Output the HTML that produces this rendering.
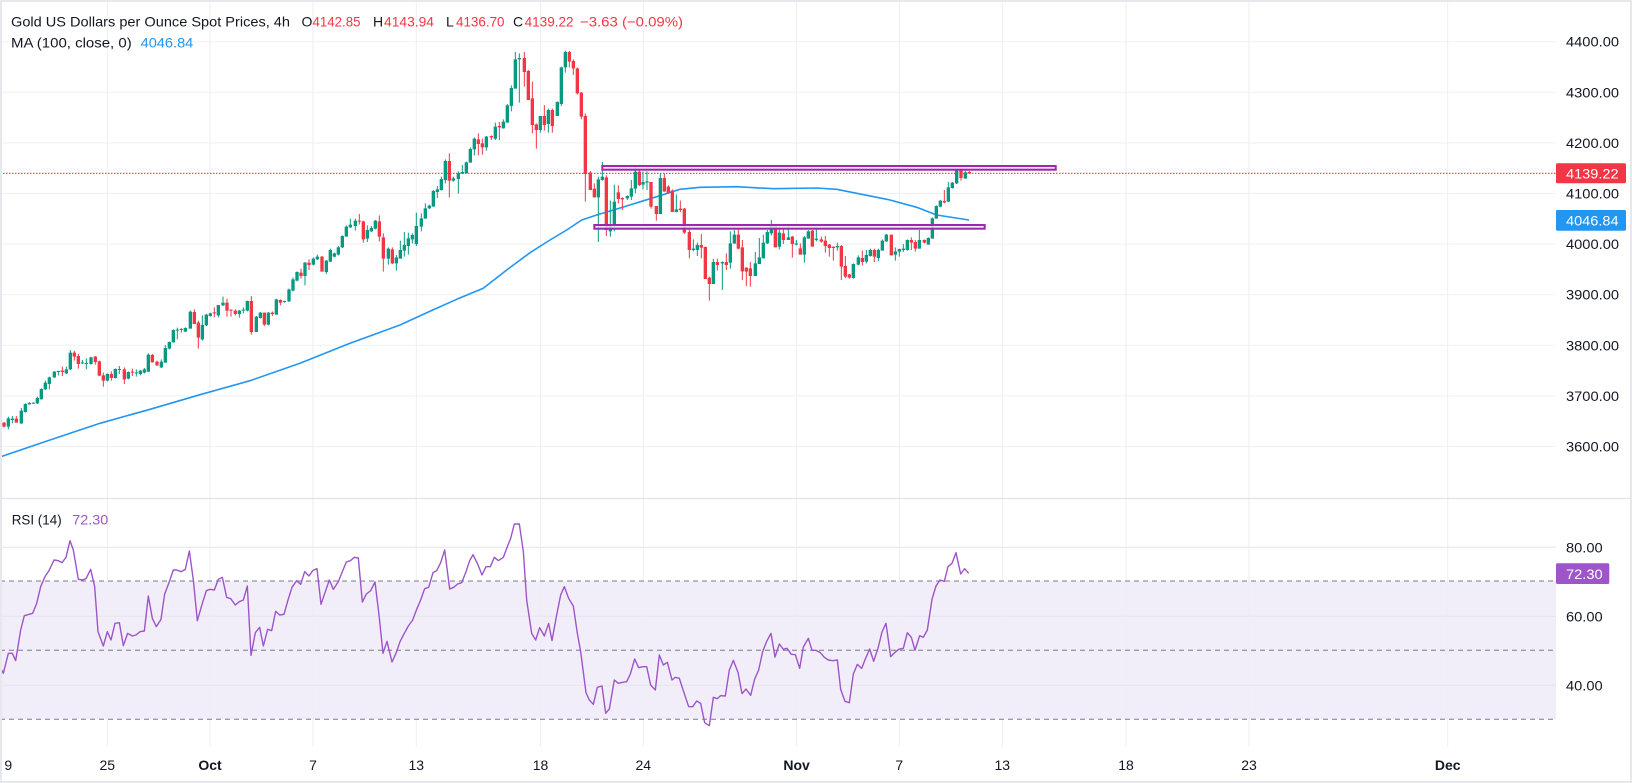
<!DOCTYPE html>
<html><head><meta charset="utf-8"><style>
html,body{margin:0;padding:0;background:#fff;}
svg{display:block;font-family:"Liberation Sans",Arial,sans-serif;}
</style></head><body>
<svg width="1632" height="783" viewBox="0 0 1632 783" xmlns="http://www.w3.org/2000/svg">
<rect x="0" y="0" width="1632" height="783" fill="#fff"/>
<!-- RSI band fill -->
<rect x="0" y="581" width="1556" height="138.3" fill="#f2eef9"/>
<!-- horizontal grid price -->
<g stroke="#eef0f3" stroke-width="1">
<line x1="0" y1="41.7" x2="1556" y2="41.7"/>
<line x1="0" y1="92.3" x2="1556" y2="92.3"/>
<line x1="0" y1="142.9" x2="1556" y2="142.9"/>
<line x1="0" y1="193.5" x2="1556" y2="193.5"/>
<line x1="0" y1="244.1" x2="1556" y2="244.1"/>
<line x1="0" y1="294.7" x2="1556" y2="294.7"/>
<line x1="0" y1="345.3" x2="1556" y2="345.3"/>
<line x1="0" y1="395.9" x2="1556" y2="395.9"/>
<line x1="0" y1="446.5" x2="1556" y2="446.5"/>
</g>
<g stroke="#e6e4ee" stroke-width="1">
<line x1="0" y1="547.3" x2="1556" y2="547.3"/>
<line x1="0" y1="616.3" x2="1556" y2="616.3"/>
<line x1="0" y1="685.3" x2="1556" y2="685.3"/>
</g>
<!-- vertical grid -->
<g stroke="#eceef2" stroke-width="1">
<line x1="107.3" y1="2" x2="107.3" y2="747"/>
<line x1="210" y1="2" x2="210" y2="747"/>
<line x1="313" y1="2" x2="313" y2="747"/>
<line x1="416.3" y1="2" x2="416.3" y2="747"/>
<line x1="540.5" y1="2" x2="540.5" y2="747"/>
<line x1="643.3" y1="2" x2="643.3" y2="747"/>
<line x1="796.6" y1="2" x2="796.6" y2="747"/>
<line x1="899.3" y1="2" x2="899.3" y2="747"/>
<line x1="1002.3" y1="2" x2="1002.3" y2="747"/>
<line x1="1126" y1="2" x2="1126" y2="747"/>
<line x1="1249" y1="2" x2="1249" y2="747"/>
<line x1="1447.7" y1="2" x2="1447.7" y2="747"/>
</g>
<!-- pane separator -->
<line x1="0" y1="498.5" x2="1632" y2="498.5" stroke="#e0e3eb" stroke-width="1.3"/>
<!-- RSI dashed levels -->
<g stroke="#787b86" stroke-width="1" stroke-dasharray="5 4">
<line x1="0" y1="581" x2="1556" y2="581"/>
<line x1="0" y1="650.3" x2="1556" y2="650.3"/>
<line x1="0" y1="719.3" x2="1556" y2="719.3"/>
</g>
<!-- last price dotted line -->
<line x1="0" y1="173.3" x2="1556" y2="173.3" stroke="#f23645" stroke-width="1.2" stroke-dasharray="1.5 1.5"/>
<!-- MA 100 -->
<polyline fill="none" stroke="#2196f3" stroke-width="1.6" stroke-linejoin="round" points="0,457 50,440 100,423.3 150,409.3 200,394.7 250,380.7 300,363.3 350,343.3 400,325 432.7,310 456.7,299.3 483.3,288.3 506.7,270 530,252.7 550,240 566.7,230 581.7,220 596.7,215 623.3,207 656.7,196.7 680,189.3 700,187.3 736.7,186.7 773.3,188.7 816.7,188 836.7,189.3 856.7,193.3 890,200 916.7,207.3 936.7,215 969,220"/>
<!-- candles section 1 -->
<g transform="translate(0,170) scale(0.333333)" fill="none">
<path stroke="#089981" stroke-width="3" d="M25 740V778M37 738V760M64 714V762M76 700V728M88 696V704M100 697V702M112 680V702M124 655V688M136 632V660M148 620V658M163 603V624M175 602V616M199 590V612M211 540V600M247 570V582M259 565V598M273 560V584M322 610V634M346 595V626M358 588V612M385 604V628M409 598V620M421 600V616M433 594V610M445 550V606M484 568V594M496 525V578M508 514V538M520 478V518M532 473V508M556 472V486M571 422V476M607 436V512M619 432V468M631 428V440M655 405V442M669 380V408M718 420V443M730 412V430M742 392V424M769 438V486M781 426V446M805 426V466M829 386V434M853 392V398M867 356V396M879 322V364M891 304V334M915 276V346M940 262V286M952 254V270M979 270V312M991 236V276M1003 248V262M1015 228V256M1027 196V234M1039 166V200M1051 146V174M1066 146V182M1102 166V216M1114 168V186M1126 150V178M1165 232V284M1189 255V302"/>
<path stroke="#089981" stroke-width="10" d="M25 745V770M37 746V750M64 722V760M76 702V726M88 699V703M100 698V701M112 684V700M124 657V688M136 638V658M148 622V642M163 605V622M175 603V606M199 598V610M211 548V598M247 577V580M259 579V582M273 562V582M322 612V632M346 597V624M358 597V600M385 606V626M409 607V610M421 602V612M433 598V608M445 554V605M484 575V592M496 534V578M508 516V536M520 480V517M532 479V482M556 474V485M571 425V476M607 465V508M619 434V466M631 430V438M655 405V436M669 398V406M718 422V432M730 419V422M742 393V422M769 440V486M781 428V444M805 428V464M829 388V434M853 393V396M867 358V394M879 328V362M891 306V332M915 278V318M940 266V284M952 260V268M979 272V306M991 240V275M1003 250V260M1015 232V254M1027 198V232M1039 170V200M1051 164V172M1066 152V168M1102 180V206M1114 174V184M1126 152V176M1165 236V266M1189 262V280"/>
<path stroke="#f23645" stroke-width="3" d="M12 756V772M49 738V758M187 590V618M223 543V572M235 552V596M286 558V584M298 572V618M310 608V650M334 604V632M373 592V642M397 596V618M457 552V578M471 572V588M544 474V488M583 418V462M595 452V536M643 412V442M681 386V440M693 418V440M706 418V436M754 378V494M793 428V468M817 424V438M841 388V406M903 296V326M927 268V300M966 258V305M1078 132V164M1090 152V218M1138 136V214M1150 190V305M1177 232V282"/>
<path stroke="#f23645" stroke-width="10" d="M12 758V770M49 746V758M187 602V606M223 548V560M235 558V582M286 560V576M298 574V617M310 616V632M334 612V624M373 598V628M397 605V608M457 555V577M471 575V586M544 477V480M583 426V462M595 458V503M643 427V430M681 398V422M693 419V422M706 422V432M754 393V486M793 428V464M817 428V432M841 390V398M903 308V318M927 278V285M966 260V305M1078 152V155M1090 154V208M1138 154V200M1150 202V266M1177 238V280"/>
</g>
<!-- candles section 2 -->
<g transform="translate(390,30) scale(0.333333)" fill="none">
<path stroke="#089981" stroke-width="3" d="M31 632V686M43 606V680M55 608V674M67 610V640M79 548V648M94 550V604M106 520V566M118 524V537M130 480V530M142 468V504M154 440V482M166 388V460M190 440V455M205 424V491M217 405V432M229 395V430M241 352V398M253 322V376M289 318V362M316 278V330M340 268V296M352 222V278M364 166V244M376 66V176M388 70V218M451 258V308M475 236V308M502 214V258M514 110V228M526 62V128M625 440V636M637 396V452M661 512V620M673 464V604M712 496V510M724 450V510M736 408V490"/>
<path stroke="#089981" stroke-width="10" d="M31 660V686M43 645V662M55 625V648M67 615V628M79 588V642M94 565V590M106 535V566M118 527V535M130 483V530M142 478V486M154 447V480M166 393V450M190 445V452M205 430V447M217 426V431M229 397V430M241 357V398M253 326V358M289 320V352M316 290V326M340 275V295M352 226V278M364 174V228M376 88V176M388 84V88M451 258V300M475 240V282M502 216V258M514 112V222M526 66V112M625 448V502M637 440V450M661 584V604M673 515V586M712 498V505M724 475V500M736 425V476"/>
<path stroke="#f23645" stroke-width="3" d="M178 370V503M265 310V376M277 326V374M304 316V330M328 276V330M403 66V170M415 120V210M427 155V310M439 280V356M463 225V302M487 236V308M538 63V112M550 88V135M562 113V194M574 186V268M586 250V515M601 423V480M613 460V502M649 436V618M685 466V520M697 502V540M748 420V468"/>
<path stroke="#f23645" stroke-width="10" d="M178 393V452M265 328V342M277 340V352M304 318V322M328 288V292M403 84V126M415 123V210M427 205V285M439 283V300M463 258V285M487 240V288M538 66V95M550 93V115M562 115V190M574 188V260M586 258V432M601 428V480M613 476V502M649 442V600M685 487V507M697 504V508M748 425V465"/>
</g>
<!-- candles section 3 -->
<g transform="translate(590,150) scale(0.333333)" fill="none">
<path stroke="#089981" stroke-width="3" d="M159 64V118M171 64V120M211 70V192M259 133V187M310 268V304M322 278V318M370 326V402M397 334V420M421 244V356M433 240V281M496 306V378M508 264V342M520 254V325M532 240V282M544 210V256M568 230V298M595 230V270M619 270V286M643 258V338M655 240V266M679 232V274M742 278V302M790 340V386M805 316V346M829 300V340M841 296V320M865 296V334M877 268V302M889 252V276M916 292V332M928 296V320M940 282V306M952 268V302M988 240V296M1015 262V284M1027 202V266M1039 166V206M1051 150V172M1075 96V156M1087 96V116M1100 58V102M1126 62V86"/>
<path stroke="#089981" stroke-width="10" d="M159 96V104M171 94V98M211 84V192M259 178V186M310 296V300M322 285V300M370 336V402M397 336V340M421 280V338M433 254V281M496 340V378M508 322V342M520 278V325M532 246V280M544 224V250M568 248V290M595 262V270M619 280V284M643 262V314M655 244V266M679 266V270M742 288V292M790 342V384M805 322V344M829 315V335M841 300V318M865 300V324M877 272V302M889 254V274M916 304V314M928 297V305M940 296V300M952 270V300M988 270V296M1015 264V284M1027 205V266M1039 168V206M1051 152V170M1075 112V155M1087 98V114M1100 60V100M1126 67V86"/>
<path stroke="#f23645" stroke-width="3" d="M183 96V176M199 168V212M223 70V125M235 106V132M247 118V186M271 152V186M283 174V252M298 222V325M334 252V325M346 290V387M358 380V452M382 326V362M409 310V360M445 238V298M457 270V390M469 352V408M481 336V410M556 224V292M580 234V282M607 258V323M631 280V314M667 240V290M694 260V278M706 258V308M718 282V320M730 290V332M754 285V390M766 318V384M778 372V386M817 302V346M853 296V336M904 254V316M964 262V300M976 270V305M1003 268V280M1063 120V160M1113 55V92M1138 63V72"/>
<path stroke="#f23645" stroke-width="10" d="M183 96V170M199 168V192M223 84V125M235 110V128M247 122V186M271 176V180M283 176V248M298 246V300M334 285V293M346 291V387M358 383V402M382 336V345M409 336V345M445 254V296M457 292V364M469 353V365M481 355V378M556 224V292M580 250V270M607 260V282M631 295V314M667 242V290M694 268V275M706 272V288M718 284V294M730 290V294M754 288V350M766 348V380M778 373V383M817 324V336M853 300V320M904 254V316M964 270V278M976 276V296M1003 270V278M1063 153V157M1113 60V84M1138 66V70"/>
</g>
<!-- drawn rectangles -->
<rect x="602.3" y="166" width="453.4" height="3.7" fill="#f3e5f5" fill-opacity="0.85" stroke="#9c27b0" stroke-width="2"/>
<rect x="594.3" y="225" width="390.4" height="3.7" fill="#f3e5f5" fill-opacity="0.85" stroke="#9c27b0" stroke-width="2"/>
<!-- RSI line -->
<g transform="translate(0,500) scale(0.333333)" fill="none">
<polyline stroke="#9d55c9" stroke-width="1.4" vector-effect="non-scaling-stroke" stroke-linejoin="round" points="0,500 10,520 25,460 37,460 47,482 62,390 73,347 98,340 110,310 122,260 135,230 148,210 162,180 175,182 186,188 198,172 210,122 220,150 235,238 247,240 258,236 272,208 284,260 294,395 310,438 322,395 333,420 345,370 358,368 370,437 383,400 397,408 408,405 420,395 433,393 445,288 457,355 469,380 483,358 494,282 507,248 520,210 530,210 544,215 556,208 568,153 580,240 592,362 604,320 619,272 630,268 643,270 655,238 667,232 680,292 692,296 706,315 718,305 730,300 742,258 753,466 766,398 779,382 790,438 803,388 815,392 827,334 839,345 852,343 864,300 876,262 890,242 902,253 914,215 927,228 938,212 951,206 963,313 975,278 988,240 1000,268 1015,245 1027,215 1039,186 1051,182 1063,172 1075,174 1087,306 1099,282 1112,272 1125,246 1137,345 1149,460 1161,424 1176,486 1188,460 1200,425 1213,400 1225,378 1238,360 1250,328 1262,300 1274,266 1286,262 1299,218 1310,212 1322,188 1334,150 1349,267 1361,262 1373,252 1385,248 1397,218 1409,182 1419,164 1433,192 1446,225 1458,200 1471,200 1483,172 1495,182"/>
</g>
<g transform="translate(490,500) scale(0.333333)" fill="none">
<polyline stroke="#9d55c9" stroke-width="1.4" vector-effect="non-scaling-stroke" stroke-linejoin="round" points="25,182 40,172 52,140 62,115 73,72 88,72 100,155 110,300 125,400 137,420 149,383 163,408 176,370 186,422 200,345 212,285 223,260 236,295 250,318 262,400 272,455 288,578 298,600 310,613 322,562 336,558 347,640 358,627 373,540 385,550 398,547 410,545 421,522 434,477 446,503 458,500 470,500 482,555 496,570 508,465 520,495 532,487 546,540 556,532 568,535 580,572 596,620 608,620 620,603 632,610 644,668 658,677 670,592 682,596 692,587 706,588 718,510 730,481 744,517 756,581 768,567 782,586 794,537 806,510 818,455 830,424 843,400 855,471 868,432 880,448 891,445 904,463 916,464 929,505 940,441 955,415 966,451 978,451 991,458 1003,472 1015,480 1028,482 1042,480 1052,568 1065,604 1078,608 1090,522 1102,493 1115,505 1126,477 1139,447 1151,484 1164,445 1176,396 1188,370 1202,470 1214,458 1226,448 1240,445 1252,398 1264,412 1275,451 1289,407 1300,412 1312,390 1326,298 1338,258 1350,240 1363,244 1374,200 1386,190 1398,158 1412,222 1424,206 1436,220"/>
</g>
<!-- header legend -->
<g font-size="14" fill="#131722">
<text x="11" y="26.5" textLength="279" lengthAdjust="spacingAndGlyphs">Gold US Dollars per Ounce Spot Prices, 4h</text>
<text x="301.5" y="26.5">O</text>
<text x="312.5" y="26.5" fill="#f23645" textLength="48" lengthAdjust="spacingAndGlyphs">4142.85</text>
<text x="373" y="26.5">H</text>
<text x="384" y="26.5" fill="#f23645" textLength="50" lengthAdjust="spacingAndGlyphs">4143.94</text>
<text x="446" y="26.5">L</text>
<text x="456" y="26.5" fill="#f23645" textLength="48.5" lengthAdjust="spacingAndGlyphs">4136.70</text>
<text x="513" y="26.5">C</text>
<text x="524.6" y="26.5" fill="#f23645" textLength="49" lengthAdjust="spacingAndGlyphs">4139.22</text>
<text x="580" y="26.5" fill="#f23645" textLength="103" lengthAdjust="spacingAndGlyphs">−3.63 (−0.09%)</text>
<text x="11" y="47.5" textLength="120.7" lengthAdjust="spacingAndGlyphs">MA (100, close, 0)</text>
<text x="140.6" y="47.5" fill="#2196f3" textLength="52.7" lengthAdjust="spacingAndGlyphs">4046.84</text>
<text x="11.7" y="524.3" textLength="50" lengthAdjust="spacingAndGlyphs">RSI (14)</text>
<text x="72.3" y="524.3" fill="#9d55c9" textLength="36" lengthAdjust="spacingAndGlyphs">72.30</text>
</g>
<!-- price axis -->
<g font-size="14" fill="#131722">
<text x="1566" y="46.7" textLength="53" lengthAdjust="spacingAndGlyphs">4400.00</text>
<text x="1566" y="97.3" textLength="53" lengthAdjust="spacingAndGlyphs">4300.00</text>
<text x="1566" y="147.9" textLength="53" lengthAdjust="spacingAndGlyphs">4200.00</text>
<text x="1566" y="198.5" textLength="53" lengthAdjust="spacingAndGlyphs">4100.00</text>
<text x="1566" y="249.1" textLength="53" lengthAdjust="spacingAndGlyphs">4000.00</text>
<text x="1566" y="299.7" textLength="53" lengthAdjust="spacingAndGlyphs">3900.00</text>
<text x="1566" y="350.3" textLength="53" lengthAdjust="spacingAndGlyphs">3800.00</text>
<text x="1566" y="400.9" textLength="53" lengthAdjust="spacingAndGlyphs">3700.00</text>
<text x="1566" y="451.5" textLength="53" lengthAdjust="spacingAndGlyphs">3600.00</text>
<text x="1566" y="552.3" textLength="36.7" lengthAdjust="spacingAndGlyphs">80.00</text>
<text x="1566" y="621.3" textLength="36.7" lengthAdjust="spacingAndGlyphs">60.00</text>
<text x="1566" y="690.3" textLength="36.7" lengthAdjust="spacingAndGlyphs">40.00</text>
</g>
<!-- price tags -->
<rect x="1556" y="163.3" width="70" height="20" rx="1.5" fill="#f23645"/>
<text x="1566" y="178.5" font-size="14" fill="#fff" textLength="52.6" lengthAdjust="spacingAndGlyphs">4139.22</text>
<rect x="1556" y="210" width="70" height="20.7" rx="1.5" fill="#2196f3"/>
<text x="1566" y="225.5" font-size="14" fill="#fff" textLength="52.6" lengthAdjust="spacingAndGlyphs">4046.84</text>
<rect x="1556" y="563.3" width="53.3" height="20.7" rx="1.5" fill="#9d55c9"/>
<text x="1566" y="578.8" font-size="14" fill="#fff" textLength="36.7" lengthAdjust="spacingAndGlyphs">72.30</text>
<!-- time axis -->
<g font-size="14" fill="#131722" text-anchor="middle">
<text x="8.3" y="770">9</text>
<text x="107.3" y="770">25</text>
<text x="210" y="770" font-weight="bold">Oct</text>
<text x="313" y="770">7</text>
<text x="416.3" y="770">13</text>
<text x="540.5" y="770">18</text>
<text x="643.3" y="770">24</text>
<text x="796.6" y="770" font-weight="bold">Nov</text>
<text x="899.3" y="770">7</text>
<text x="1002.3" y="770">13</text>
<text x="1126" y="770">18</text>
<text x="1249" y="770">23</text>
<text x="1447.7" y="770" font-weight="bold">Dec</text>
</g>
<!-- outer frame -->
<rect x="1" y="1" width="1630" height="781" fill="none" stroke="#e6e8ee" stroke-width="2"/>
</svg>
</body></html>
